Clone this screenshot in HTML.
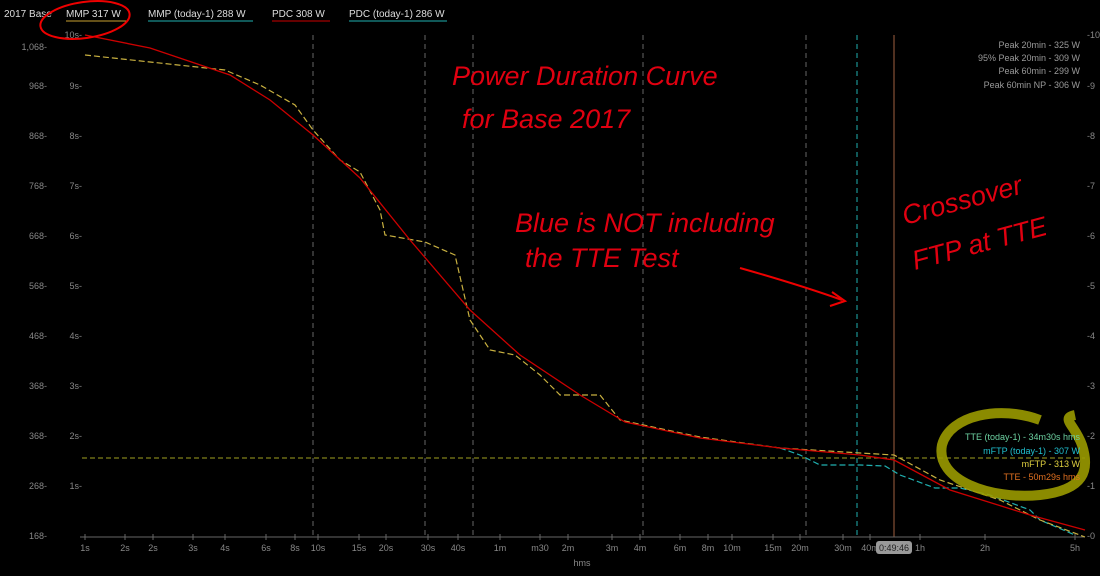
<!DOCTYPE html>
<html><head><style>
body{margin:0;background:#000;width:1100px;height:571px;overflow:hidden;font-family:"Liberation Sans",sans-serif}
</style></head><body>
<svg width="1100" height="571" xmlns="http://www.w3.org/2000/svg" font-family="Liberation Sans, sans-serif">
<rect width="1100" height="571" fill="#000"/>
<g font-size="10" fill="#ddd">
<text x="4" y="17">2017 Base</text>
<text x="66" y="17">MMP  317 W</text><line x1="66" y1="21" x2="128" y2="21" stroke="#c8a030"/>
<text x="148" y="17">MMP (today-1)  288 W</text><line x1="148" y1="21" x2="253" y2="21" stroke="#20b0b0"/>
<text x="272" y="17">PDC  308 W</text><line x1="272" y1="21" x2="330" y2="21" stroke="#c00"/>
<text x="349" y="17">PDC (today-1)  286 W</text><line x1="349" y1="21" x2="447" y2="21" stroke="#20b0b0"/>
</g>
<g font-size="9" fill="#888" text-anchor="end">
<text x="47" y="50">1,068-</text><text x="47" y="89">968-</text><text x="47" y="139">868-</text><text x="47" y="189">768-</text><text x="47" y="239">668-</text><text x="47" y="289">568-</text><text x="47" y="339">468-</text><text x="47" y="389">368-</text><text x="47" y="439">368-</text><text x="47" y="489">268-</text><text x="47" y="539">168-</text>
<text x="82" y="38">10s-</text><text x="82" y="89">9s-</text><text x="82" y="139">8s-</text><text x="82" y="189">7s-</text><text x="82" y="239">6s-</text><text x="82" y="289">5s-</text><text x="82" y="339">4s-</text><text x="82" y="389">3s-</text><text x="82" y="439">2s-</text><text x="82" y="489">1s-</text>
</g>
<g font-size="9" fill="#888">
<text x="1087" y="38">-10</text><text x="1087" y="89">-9</text><text x="1087" y="139">-8</text><text x="1087" y="189">-7</text><text x="1087" y="239">-6</text><text x="1087" y="289">-5</text><text x="1087" y="339">-4</text><text x="1087" y="389">-3</text><text x="1087" y="439">-2</text><text x="1087" y="489">-1</text><text x="1087" y="539">-0</text>
</g>
<g stroke="#666" stroke-dasharray="5,4">
<line x1="313" y1="35" x2="313" y2="537"/><line x1="425" y1="35" x2="425" y2="537"/><line x1="473" y1="35" x2="473" y2="537"/><line x1="643" y1="35" x2="643" y2="537"/><line x1="806" y1="35" x2="806" y2="537"/>
</g>
<line x1="857" y1="35" x2="857" y2="537" stroke="#20b0b0" stroke-dasharray="5,4"/>
<line x1="894" y1="35" x2="894" y2="537" stroke="#a06040"/>
<line x1="80" y1="537" x2="1085" y2="537" stroke="#666"/>
<g stroke="#666">
<line x1="85" y1="534" x2="85" y2="540"/><line x1="125" y1="534" x2="125" y2="540"/><line x1="153" y1="534" x2="153" y2="540"/><line x1="193" y1="534" x2="193" y2="540"/><line x1="225" y1="534" x2="225" y2="540"/><line x1="266" y1="534" x2="266" y2="540"/><line x1="295" y1="534" x2="295" y2="540"/><line x1="318" y1="534" x2="318" y2="540"/><line x1="359" y1="534" x2="359" y2="540"/><line x1="386" y1="534" x2="386" y2="540"/><line x1="428" y1="534" x2="428" y2="540"/><line x1="458" y1="534" x2="458" y2="540"/><line x1="500" y1="534" x2="500" y2="540"/><line x1="540" y1="534" x2="540" y2="540"/><line x1="568" y1="534" x2="568" y2="540"/><line x1="612" y1="534" x2="612" y2="540"/><line x1="640" y1="534" x2="640" y2="540"/><line x1="680" y1="534" x2="680" y2="540"/><line x1="708" y1="534" x2="708" y2="540"/><line x1="732" y1="534" x2="732" y2="540"/><line x1="773" y1="534" x2="773" y2="540"/><line x1="800" y1="534" x2="800" y2="540"/><line x1="843" y1="534" x2="843" y2="540"/><line x1="870" y1="534" x2="870" y2="540"/><line x1="920" y1="534" x2="920" y2="540"/><line x1="985" y1="534" x2="985" y2="540"/><line x1="1075" y1="534" x2="1075" y2="540"/>
</g>
<line x1="82" y1="458" x2="1085" y2="458" stroke="#a0a020" stroke-dasharray="5,3"/>
<g font-size="9" fill="#888" text-anchor="middle">
<text x="85" y="551">1s</text><text x="125" y="551">2s</text><text x="153" y="551">2s</text><text x="193" y="551">3s</text><text x="225" y="551">4s</text><text x="266" y="551">6s</text><text x="295" y="551">8s</text><text x="318" y="551">10s</text><text x="359" y="551">15s</text><text x="386" y="551">20s</text><text x="428" y="551">30s</text><text x="458" y="551">40s</text><text x="500" y="551">1m</text><text x="540" y="551">m30</text><text x="568" y="551">2m</text><text x="612" y="551">3m</text><text x="640" y="551">4m</text><text x="680" y="551">6m</text><text x="708" y="551">8m</text><text x="732" y="551">10m</text><text x="773" y="551">15m</text><text x="800" y="551">20m</text><text x="843" y="551">30m</text><text x="870" y="551">40m</text><text x="920" y="551">1h</text><text x="985" y="551">2h</text><text x="1075" y="551">5h</text><text x="582" y="566">hms</text>
</g>
<rect x="876" y="541" width="36" height="13" rx="3" fill="#999"/><text x="894" y="551" font-size="9" fill="#222" text-anchor="middle">0:49:46</text>
<g font-size="9" fill="#999" text-anchor="end">
<text x="1080" y="48">Peak 20min - 325 W</text><text x="1080" y="61">95% Peak 20min - 309 W</text><text x="1080" y="74">Peak 60min - 299 W</text><text x="1080" y="88">Peak 60min NP - 306 W</text>
</g>
<polyline fill="none" stroke="#20b0b0" stroke-width="1.2" stroke-dasharray="6,3" points="780,448 800,455 820,465 860,465 885,466 900,475 935,488 960,488 990,495 1030,510 1040,520 1075,535"/>
<polyline fill="none" stroke="#c8b040" stroke-width="1.2" stroke-dasharray="6,3" points="85,55 150,62 225,70 260,85 295,105 313,130 340,160 360,172 380,210 385,235 425,242 455,255 470,320 490,350 515,355 540,375 560,395 600,395 620,420 700,437 780,448 860,453 894,455 940,480 1000,500 1040,520 1085,537"/>
<polyline fill="none" stroke="#c00" stroke-width="1.3" points="85,35 150,48 230,75 270,100 313,135 360,178 410,240 470,310 520,355 580,395 625,422 700,438 780,448 860,455 894,460 950,490 1030,515 1085,530"/>
<path d="M1040 420 C1000 405 950 415 942 445 C935 480 990 500 1040 495 C1085 490 1090 470 1082 445 C1075 425 1060 418 1075 415" fill="none" stroke="#9a9a00" stroke-width="10" opacity="0.9"/>
<g font-size="9" text-anchor="end">
<text x="1080" y="440" fill="#6cd0a0">TTE (today-1) - 34m30s hms</text>
<text x="1080" y="454" fill="#20c0d0">mFTP (today-1) - 307 W</text>
<text x="1080" y="467" fill="#e0d040">mFTP - 313 W</text>
<text x="1080" y="480" fill="#e07020">TTE - 50m29s hms</text>
</g>
<ellipse cx="85" cy="20" rx="45" ry="18" fill="none" stroke="#e00" stroke-width="2" transform="rotate(-8 85 20)"/>
<g fill="#e00010" font-style="italic" font-size="27" font-family="Liberation Sans, sans-serif">
<text x="452" y="85">Power Duration Curve</text>
<text x="462" y="128">for Base 2017</text>
<text x="515" y="232">Blue is NOT including</text>
<text x="525" y="267">the TTE Test</text>
<text x="905" y="225" transform="rotate(-15 905 225)">Crossover</text>
<text x="915" y="270" transform="rotate(-15 915 270)">FTP at TTE</text>
</g>
<path d="M740 268 Q800 285 842 300" fill="none" stroke="#e00" stroke-width="2"/>
<path d="M832 292 L845 301 L830 306" fill="none" stroke="#e00" stroke-width="2"/>
</svg>
</body></html>
